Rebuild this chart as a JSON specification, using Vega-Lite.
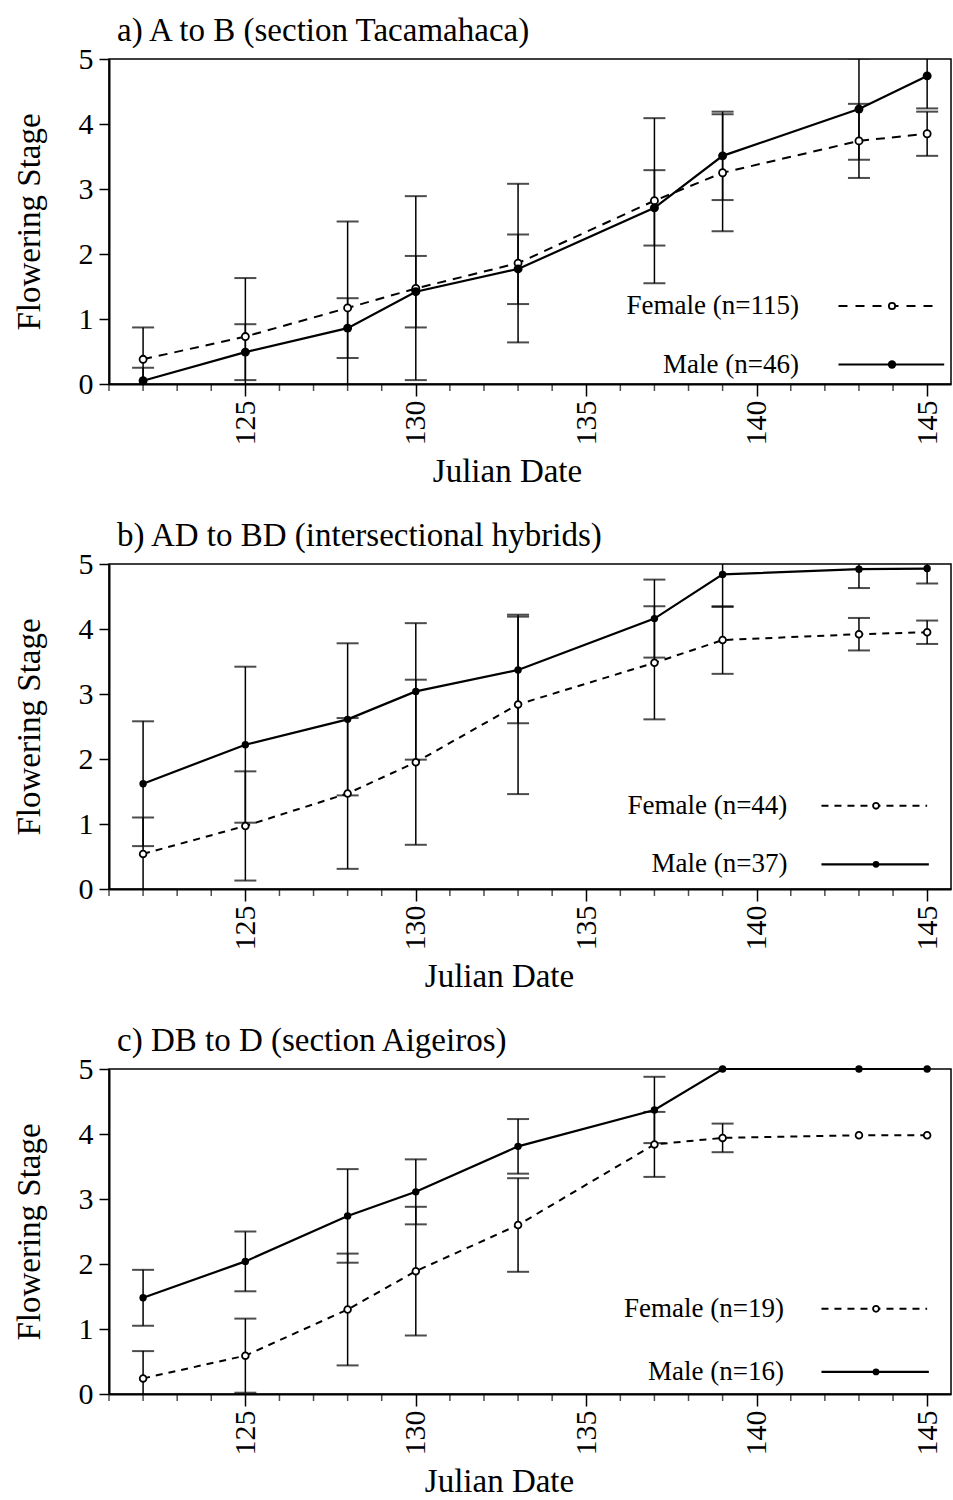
{
  "$schema": "https://vega.github.io/schema/vega-lite/v6.json",
  "padding": {"left": 12, "top": 14, "right": 0, "bottom": 0},
  "background": "white",
  "spacing": 30,
  "datasets": {
    "days": [
      {"day": 121}, {"day": 122}, {"day": 123}, {"day": 124}, {"day": 126}, {"day": 127}, {"day": 128}, {"day": 129},
      {"day": 131}, {"day": 132}, {"day": 133}, {"day": 134}, {"day": 136}, {"day": 137}, {"day": 138}, {"day": 139},
      {"day": 141}, {"day": 142}, {"day": 143}, {"day": 144}
    ],
    "a": [
      {"sex": "Female", "day": 122, "mean": 0.38, "lo": -0.11, "hi": 0.87},
      {"sex": "Female", "day": 125, "mean": 0.73, "lo": -0.17, "hi": 1.63},
      {"sex": "Female", "day": 128, "mean": 1.17, "lo": -0.16, "hi": 2.50},
      {"sex": "Female", "day": 130, "mean": 1.47, "lo": 0.06, "hi": 2.89},
      {"sex": "Female", "day": 133, "mean": 1.86, "lo": 0.64, "hi": 3.08},
      {"sex": "Female", "day": 137, "mean": 2.82, "lo": 1.55, "hi": 4.09},
      {"sex": "Female", "day": 139, "mean": 3.25, "lo": 2.35, "hi": 4.15},
      {"sex": "Female", "day": 143, "mean": 3.74, "lo": 3.17, "hi": 4.31},
      {"sex": "Female", "day": 145, "mean": 3.85, "lo": 3.51, "hi": 4.19},
      {"sex": "Male", "day": 122, "mean": 0.05, "lo": -0.15, "hi": 0.25},
      {"sex": "Male", "day": 125, "mean": 0.49, "lo": 0.06, "hi": 0.92},
      {"sex": "Male", "day": 128, "mean": 0.86, "lo": 0.40, "hi": 1.32},
      {"sex": "Male", "day": 130, "mean": 1.42, "lo": 0.87, "hi": 1.97},
      {"sex": "Male", "day": 133, "mean": 1.77, "lo": 1.23, "hi": 2.30},
      {"sex": "Male", "day": 137, "mean": 2.71, "lo": 2.13, "hi": 3.29},
      {"sex": "Male", "day": 139, "mean": 3.51, "lo": 2.83, "hi": 4.19},
      {"sex": "Male", "day": 143, "mean": 4.23, "lo": 3.45, "hi": 5.01},
      {"sex": "Male", "day": 145, "mean": 4.74, "lo": 4.24, "hi": 5.24}
    ],
    "b": [
      {"sex": "Female", "day": 122, "mean": 0.54, "lo": -0.02, "hi": 1.10},
      {"sex": "Female", "day": 125, "mean": 0.97, "lo": 0.13, "hi": 1.81},
      {"sex": "Female", "day": 128, "mean": 1.47, "lo": 0.31, "hi": 2.63},
      {"sex": "Female", "day": 130, "mean": 1.95, "lo": 0.68, "hi": 3.22},
      {"sex": "Female", "day": 133, "mean": 2.84, "lo": 1.46, "hi": 4.22},
      {"sex": "Female", "day": 137, "mean": 3.48, "lo": 2.61, "hi": 4.35},
      {"sex": "Female", "day": 139, "mean": 3.83, "lo": 3.31, "hi": 4.35},
      {"sex": "Female", "day": 143, "mean": 3.92, "lo": 3.67, "hi": 4.17},
      {"sex": "Female", "day": 145, "mean": 3.95, "lo": 3.77, "hi": 4.13},
      {"sex": "Male", "day": 122, "mean": 1.62, "lo": 0.66, "hi": 2.58},
      {"sex": "Male", "day": 125, "mean": 2.22, "lo": 1.02, "hi": 3.42},
      {"sex": "Male", "day": 128, "mean": 2.61, "lo": 1.44, "hi": 3.78},
      {"sex": "Male", "day": 130, "mean": 3.04, "lo": 1.99, "hi": 4.09},
      {"sex": "Male", "day": 133, "mean": 3.37, "lo": 2.55, "hi": 4.19},
      {"sex": "Male", "day": 137, "mean": 4.16, "lo": 3.56, "hi": 4.76},
      {"sex": "Male", "day": 139, "mean": 4.84, "lo": 4.34, "hi": 5.34},
      {"sex": "Male", "day": 143, "mean": 4.92, "lo": 4.63, "hi": 5.21},
      {"sex": "Male", "day": 145, "mean": 4.93, "lo": 4.70, "hi": 5.16}
    ],
    "c": [
      {"sex": "Female", "day": 122, "mean": 0.24, "lo": -0.18, "hi": 0.66},
      {"sex": "Female", "day": 125, "mean": 0.59, "lo": 0.02, "hi": 1.16},
      {"sex": "Female", "day": 128, "mean": 1.30, "lo": 0.44, "hi": 2.16},
      {"sex": "Female", "day": 130, "mean": 1.89, "lo": 0.90, "hi": 2.88},
      {"sex": "Female", "day": 133, "mean": 2.60, "lo": 1.88, "hi": 3.32},
      {"sex": "Female", "day": 137, "mean": 3.84, "lo": 3.34, "hi": 4.34},
      {"sex": "Female", "day": 139, "mean": 3.94, "lo": 3.72, "hi": 4.16},
      {"sex": "Female", "day": 143, "mean": 3.98, "lo": null, "hi": null},
      {"sex": "Female", "day": 145, "mean": 3.98, "lo": null, "hi": null},
      {"sex": "Male", "day": 122, "mean": 1.48, "lo": 1.05, "hi": 1.91},
      {"sex": "Male", "day": 125, "mean": 2.04, "lo": 1.58, "hi": 2.50},
      {"sex": "Male", "day": 128, "mean": 2.74, "lo": 2.02, "hi": 3.46},
      {"sex": "Male", "day": 130, "mean": 3.11, "lo": 2.61, "hi": 3.61},
      {"sex": "Male", "day": 133, "mean": 3.81, "lo": 3.39, "hi": 4.23},
      {"sex": "Male", "day": 137, "mean": 4.37, "lo": 3.86, "hi": 4.88},
      {"sex": "Male", "day": 139, "mean": 5.0, "lo": null, "hi": null},
      {"sex": "Male", "day": 143, "mean": 5.0, "lo": null, "hi": null},
      {"sex": "Male", "day": 145, "mean": 5.0, "lo": null, "hi": null}
    ]
  },
  "vconcat": [
    {
      "title": {"text": "a) A to B (section Tacamahaca)"},
      "width": 842, "height": 325,
      "layer": [
        {"data": {"name": "a"}, "transform": [{"filter": "isValid(datum.lo)"}], "mark": {"type": "rule", "color": "black", "strokeWidth": 1.5, "clip": true},
         "encoding": {
           "x": {"field": "day", "type": "quantitative", "title": "Julian Date", "scale": {"domain": [121, 145.7], "nice": false, "zero": false},
             "axis": {"values": [125, 130, 135, 140, 145], "format": "d", "labelAngle": 270, "tickSize": 12, "titleX": 398}},
           "y": {"field": "lo", "type": "quantitative", "title": "Flowering Stage", "scale": {"domain": [0, 5], "nice": false}, "axis": {"values": [0,1,2,3,4,5], "format": "d"}},
           "y2": {"field": "hi"}}},
        {"data": {"name": "a"}, "transform": [{"filter": "isValid(datum.lo)"}], "mark": {"type": "tick", "orient": "horizontal", "color": "black", "size": 22, "thickness": 2, "clip": true},
         "encoding": {"x": {"field": "day", "type": "quantitative", "title": "Julian Date"}, "y": {"field": "lo", "type": "quantitative", "title": "Flowering Stage"}}},
        {"data": {"name": "a"}, "transform": [{"filter": "isValid(datum.hi)"}], "mark": {"type": "tick", "orient": "horizontal", "color": "black", "size": 22, "thickness": 2, "clip": true},
         "encoding": {"x": {"field": "day", "type": "quantitative", "title": "Julian Date"}, "y": {"field": "hi", "type": "quantitative", "title": "Flowering Stage"}}},
        {"data": {"name": "a"}, "transform": [{"filter": "datum.sex === 'Female'"}], "mark": {"type": "line", "color": "black", "strokeWidth": 2, "strokeDash": [9, 7]},
         "encoding": {"x": {"field": "day", "type": "quantitative", "title": "Julian Date"}, "y": {"field": "mean", "type": "quantitative", "title": "Flowering Stage"}}},
        {"data": {"name": "a"}, "transform": [{"filter": "datum.sex === 'Male'"}], "mark": {"type": "line", "color": "black", "strokeWidth": 2.2},
         "encoding": {"x": {"field": "day", "type": "quantitative", "title": "Julian Date"}, "y": {"field": "mean", "type": "quantitative", "title": "Flowering Stage"}}},
        {"data": {"name": "a"}, "transform": [{"filter": "datum.sex === 'Female'"}], "mark": {"type": "point", "shape": "circle", "filled": true, "fill": "white", "stroke": "black", "strokeWidth": 1.8, "size": 50, "opacity": 1},
         "encoding": {"x": {"field": "day", "type": "quantitative", "title": "Julian Date"}, "y": {"field": "mean", "type": "quantitative", "title": "Flowering Stage"}}},
        {"data": {"name": "a"}, "transform": [{"filter": "datum.sex === 'Male'"}], "mark": {"type": "point", "shape": "circle", "filled": true, "fill": "black", "size": 80, "opacity": 1},
         "encoding": {"x": {"field": "day", "type": "quantitative", "title": "Julian Date"}, "y": {"field": "mean", "type": "quantitative", "title": "Flowering Stage"}}},
        {"data": {"name": "days"}, "mark": {"type": "tick", "orient": "vertical", "color": "black", "size": 6, "thickness": 1.5, "yOffset": 4},
         "encoding": {"x": {"field": "day", "type": "quantitative", "title": "Julian Date"}, "y": {"datum": 0, "title": "Flowering Stage"}}},
        {"data": {"values": [{"label": "Female (n=115)"}]}, "mark": {"type": "text", "align": "right", "baseline": "middle", "fontSize": 27, "color": "black"},
         "encoding": {"x": {"datum": 141.24, "title": "Julian Date"}, "y": {"datum": 1.2, "title": "Flowering Stage"}, "text": {"field": "label"}}},
        {"data": {"values": [{"label": "Male (n=46)"}]}, "mark": {"type": "text", "align": "right", "baseline": "middle", "fontSize": 27, "color": "black"},
         "encoding": {"x": {"datum": 141.24, "title": "Julian Date"}, "y": {"datum": 0.3, "title": "Flowering Stage"}, "text": {"field": "label"}}},
        {"data": {"values": [{"label": "Female (n=115)"}]}, "mark": {"type": "rule", "color": "black", "strokeWidth": 2, "strokeDash": [9, 8]},
         "encoding": {"x": {"datum": 142.4, "title": "Julian Date"}, "x2": {"datum": 145.2}, "y": {"datum": 1.2, "title": "Flowering Stage"}}},
        {"data": {"values": [{"label": "Male (n=46)"}]}, "mark": {"type": "rule", "color": "black", "strokeWidth": 2.2},
         "encoding": {"x": {"datum": 142.4, "title": "Julian Date"}, "x2": {"datum": 145.5}, "y": {"datum": 0.3, "title": "Flowering Stage"}}},
        {"data": {"values": [{"label": "Female (n=115)"}]}, "mark": {"type": "point", "shape": "circle", "filled": true, "fill": "white", "stroke": "black", "strokeWidth": 1.8, "size": 40, "opacity": 1},
         "encoding": {"x": {"datum": 143.97, "title": "Julian Date"}, "y": {"datum": 1.2, "title": "Flowering Stage"}}},
        {"data": {"values": [{"label": "Male (n=46)"}]}, "mark": {"type": "point", "shape": "circle", "filled": true, "fill": "black", "size": 70, "opacity": 1},
         "encoding": {"x": {"datum": 143.97, "title": "Julian Date"}, "y": {"datum": 0.3, "title": "Flowering Stage"}}}
      ]
    },
    {
      "title": {"text": "b) AD to BD (intersectional hybrids)"},
      "width": 842, "height": 325,
      "layer": [
        {"data": {"name": "b"}, "transform": [{"filter": "isValid(datum.lo)"}], "mark": {"type": "rule", "color": "black", "strokeWidth": 1.5, "clip": true},
         "encoding": {
           "x": {"field": "day", "type": "quantitative", "title": "Julian Date", "scale": {"domain": [121, 145.7], "nice": false, "zero": false},
             "axis": {"values": [125, 130, 135, 140, 145], "format": "d", "labelAngle": 270, "tickSize": 12, "titleX": 390}},
           "y": {"field": "lo", "type": "quantitative", "title": "Flowering Stage", "scale": {"domain": [0, 5], "nice": false}, "axis": {"values": [0,1,2,3,4,5], "format": "d"}},
           "y2": {"field": "hi"}}},
        {"data": {"name": "b"}, "transform": [{"filter": "isValid(datum.lo)"}], "mark": {"type": "tick", "orient": "horizontal", "color": "black", "size": 22, "thickness": 2, "clip": true},
         "encoding": {"x": {"field": "day", "type": "quantitative", "title": "Julian Date"}, "y": {"field": "lo", "type": "quantitative", "title": "Flowering Stage"}}},
        {"data": {"name": "b"}, "transform": [{"filter": "isValid(datum.hi)"}], "mark": {"type": "tick", "orient": "horizontal", "color": "black", "size": 22, "thickness": 2, "clip": true},
         "encoding": {"x": {"field": "day", "type": "quantitative", "title": "Julian Date"}, "y": {"field": "hi", "type": "quantitative", "title": "Flowering Stage"}}},
        {"data": {"name": "b"}, "transform": [{"filter": "datum.sex === 'Female'"}], "mark": {"type": "line", "color": "black", "strokeWidth": 2, "strokeDash": [7, 6]},
         "encoding": {"x": {"field": "day", "type": "quantitative", "title": "Julian Date"}, "y": {"field": "mean", "type": "quantitative", "title": "Flowering Stage"}}},
        {"data": {"name": "b"}, "transform": [{"filter": "datum.sex === 'Male'"}], "mark": {"type": "line", "color": "black", "strokeWidth": 2.2},
         "encoding": {"x": {"field": "day", "type": "quantitative", "title": "Julian Date"}, "y": {"field": "mean", "type": "quantitative", "title": "Flowering Stage"}}},
        {"data": {"name": "b"}, "transform": [{"filter": "datum.sex === 'Female'"}], "mark": {"type": "point", "shape": "circle", "filled": true, "fill": "white", "stroke": "black", "strokeWidth": 1.8, "size": 45, "opacity": 1},
         "encoding": {"x": {"field": "day", "type": "quantitative", "title": "Julian Date"}, "y": {"field": "mean", "type": "quantitative", "title": "Flowering Stage"}}},
        {"data": {"name": "b"}, "transform": [{"filter": "datum.sex === 'Male'"}], "mark": {"type": "point", "shape": "circle", "filled": true, "fill": "black", "size": 55, "opacity": 1},
         "encoding": {"x": {"field": "day", "type": "quantitative", "title": "Julian Date"}, "y": {"field": "mean", "type": "quantitative", "title": "Flowering Stage"}}},
        {"data": {"name": "days"}, "mark": {"type": "tick", "orient": "vertical", "color": "black", "size": 6, "thickness": 1.5, "yOffset": 4},
         "encoding": {"x": {"field": "day", "type": "quantitative", "title": "Julian Date"}, "y": {"datum": 0, "title": "Flowering Stage"}}},
        {"data": {"values": [{"label": "Female (n=44)"}]}, "mark": {"type": "text", "align": "right", "baseline": "middle", "fontSize": 27, "color": "black"},
         "encoding": {"x": {"datum": 140.9, "title": "Julian Date"}, "y": {"datum": 1.28, "title": "Flowering Stage"}, "text": {"field": "label"}}},
        {"data": {"values": [{"label": "Male (n=37)"}]}, "mark": {"type": "text", "align": "right", "baseline": "middle", "fontSize": 27, "color": "black"},
         "encoding": {"x": {"datum": 140.9, "title": "Julian Date"}, "y": {"datum": 0.38, "title": "Flowering Stage"}, "text": {"field": "label"}}},
        {"data": {"values": [{"label": "Female (n=44)"}]}, "mark": {"type": "rule", "color": "black", "strokeWidth": 2, "strokeDash": [7, 6]},
         "encoding": {"x": {"datum": 141.9, "title": "Julian Date"}, "x2": {"datum": 145.0}, "y": {"datum": 1.28, "title": "Flowering Stage"}}},
        {"data": {"values": [{"label": "Male (n=37)"}]}, "mark": {"type": "rule", "color": "black", "strokeWidth": 2.2},
         "encoding": {"x": {"datum": 141.9, "title": "Julian Date"}, "x2": {"datum": 145.05}, "y": {"datum": 0.38, "title": "Flowering Stage"}}},
        {"data": {"values": [{"label": "Female (n=44)"}]}, "mark": {"type": "point", "shape": "circle", "filled": true, "fill": "white", "stroke": "black", "strokeWidth": 1.8, "size": 35, "opacity": 1},
         "encoding": {"x": {"datum": 143.5, "title": "Julian Date"}, "y": {"datum": 1.28, "title": "Flowering Stage"}}},
        {"data": {"values": [{"label": "Male (n=37)"}]}, "mark": {"type": "point", "shape": "circle", "filled": true, "fill": "black", "size": 45, "opacity": 1},
         "encoding": {"x": {"datum": 143.5, "title": "Julian Date"}, "y": {"datum": 0.38, "title": "Flowering Stage"}}}
      ]
    },
    {
      "title": {"text": "c) DB to D (section Aigeiros)"},
      "width": 842, "height": 325,
      "layer": [
        {"data": {"name": "c"}, "transform": [{"filter": "isValid(datum.lo)"}], "mark": {"type": "rule", "color": "black", "strokeWidth": 1.5, "clip": true},
         "encoding": {
           "x": {"field": "day", "type": "quantitative", "title": "Julian Date", "scale": {"domain": [121, 145.7], "nice": false, "zero": false},
             "axis": {"values": [125, 130, 135, 140, 145], "format": "d", "labelAngle": 270, "tickSize": 12, "titleX": 390}},
           "y": {"field": "lo", "type": "quantitative", "title": "Flowering Stage", "scale": {"domain": [0, 5], "nice": false}, "axis": {"values": [0,1,2,3,4,5], "format": "d"}},
           "y2": {"field": "hi"}}},
        {"data": {"name": "c"}, "transform": [{"filter": "isValid(datum.lo)"}], "mark": {"type": "tick", "orient": "horizontal", "color": "black", "size": 22, "thickness": 2, "clip": true},
         "encoding": {"x": {"field": "day", "type": "quantitative", "title": "Julian Date"}, "y": {"field": "lo", "type": "quantitative", "title": "Flowering Stage"}}},
        {"data": {"name": "c"}, "transform": [{"filter": "isValid(datum.hi)"}], "mark": {"type": "tick", "orient": "horizontal", "color": "black", "size": 22, "thickness": 2, "clip": true},
         "encoding": {"x": {"field": "day", "type": "quantitative", "title": "Julian Date"}, "y": {"field": "hi", "type": "quantitative", "title": "Flowering Stage"}}},
        {"data": {"name": "c"}, "transform": [{"filter": "datum.sex === 'Female'"}], "mark": {"type": "line", "color": "black", "strokeWidth": 2, "strokeDash": [7, 6]},
         "encoding": {"x": {"field": "day", "type": "quantitative", "title": "Julian Date"}, "y": {"field": "mean", "type": "quantitative", "title": "Flowering Stage"}}},
        {"data": {"name": "c"}, "transform": [{"filter": "datum.sex === 'Male'"}], "mark": {"type": "line", "color": "black", "strokeWidth": 2.2},
         "encoding": {"x": {"field": "day", "type": "quantitative", "title": "Julian Date"}, "y": {"field": "mean", "type": "quantitative", "title": "Flowering Stage"}}},
        {"data": {"name": "c"}, "transform": [{"filter": "datum.sex === 'Female'"}], "mark": {"type": "point", "shape": "circle", "filled": true, "fill": "white", "stroke": "black", "strokeWidth": 1.8, "size": 45, "opacity": 1},
         "encoding": {"x": {"field": "day", "type": "quantitative", "title": "Julian Date"}, "y": {"field": "mean", "type": "quantitative", "title": "Flowering Stage"}}},
        {"data": {"name": "c"}, "transform": [{"filter": "datum.sex === 'Male'"}], "mark": {"type": "point", "shape": "circle", "filled": true, "fill": "black", "size": 55, "opacity": 1},
         "encoding": {"x": {"field": "day", "type": "quantitative", "title": "Julian Date"}, "y": {"field": "mean", "type": "quantitative", "title": "Flowering Stage"}}},
        {"data": {"name": "days"}, "mark": {"type": "tick", "orient": "vertical", "color": "black", "size": 6, "thickness": 1.5, "yOffset": 4},
         "encoding": {"x": {"field": "day", "type": "quantitative", "title": "Julian Date"}, "y": {"datum": 0, "title": "Flowering Stage"}}},
        {"data": {"values": [{"label": "Female (n=19)"}]}, "mark": {"type": "text", "align": "right", "baseline": "middle", "fontSize": 27, "color": "black"},
         "encoding": {"x": {"datum": 140.8, "title": "Julian Date"}, "y": {"datum": 1.31, "title": "Flowering Stage"}, "text": {"field": "label"}}},
        {"data": {"values": [{"label": "Male (n=16)"}]}, "mark": {"type": "text", "align": "right", "baseline": "middle", "fontSize": 27, "color": "black"},
         "encoding": {"x": {"datum": 140.8, "title": "Julian Date"}, "y": {"datum": 0.34, "title": "Flowering Stage"}, "text": {"field": "label"}}},
        {"data": {"values": [{"label": "Female (n=19)"}]}, "mark": {"type": "rule", "color": "black", "strokeWidth": 2, "strokeDash": [7, 6]},
         "encoding": {"x": {"datum": 141.9, "title": "Julian Date"}, "x2": {"datum": 145.0}, "y": {"datum": 1.31, "title": "Flowering Stage"}}},
        {"data": {"values": [{"label": "Male (n=16)"}]}, "mark": {"type": "rule", "color": "black", "strokeWidth": 2.2},
         "encoding": {"x": {"datum": 141.9, "title": "Julian Date"}, "x2": {"datum": 145.05}, "y": {"datum": 0.34, "title": "Flowering Stage"}}},
        {"data": {"values": [{"label": "Female (n=19)"}]}, "mark": {"type": "point", "shape": "circle", "filled": true, "fill": "white", "stroke": "black", "strokeWidth": 1.8, "size": 35, "opacity": 1},
         "encoding": {"x": {"datum": 143.5, "title": "Julian Date"}, "y": {"datum": 1.31, "title": "Flowering Stage"}}},
        {"data": {"values": [{"label": "Male (n=16)"}]}, "mark": {"type": "point", "shape": "circle", "filled": true, "fill": "black", "size": 45, "opacity": 1},
         "encoding": {"x": {"datum": 143.5, "title": "Julian Date"}, "y": {"datum": 0.34, "title": "Flowering Stage"}}}
      ]
    }
  ],
  "config": {
    "font": "Liberation Serif",
    "view": {"stroke": "black", "strokeWidth": 1.5},
    "title": {"anchor": "start", "frame": "group", "font": "Liberation Serif", "fontSize": 33, "fontWeight": "normal", "color": "black", "offset": -4, "dx": 8},
    "text": {"font": "Liberation Serif"},
    "axis": {"grid": false, "domainColor": "black", "domainWidth": 2, "tickColor": "black", "tickWidth": 1.5,
      "labelFont": "Liberation Serif", "labelFontSize": 30, "labelColor": "black",
      "titleFont": "Liberation Serif", "titleFontSize": 33, "titleFontWeight": "normal", "titleColor": "black"},
    "axisY": {"tickSize": 10, "labelPadding": 6, "titlePadding": 32},
    "axisX": {"labelPadding": 4, "titlePadding": 10}
  }
}
